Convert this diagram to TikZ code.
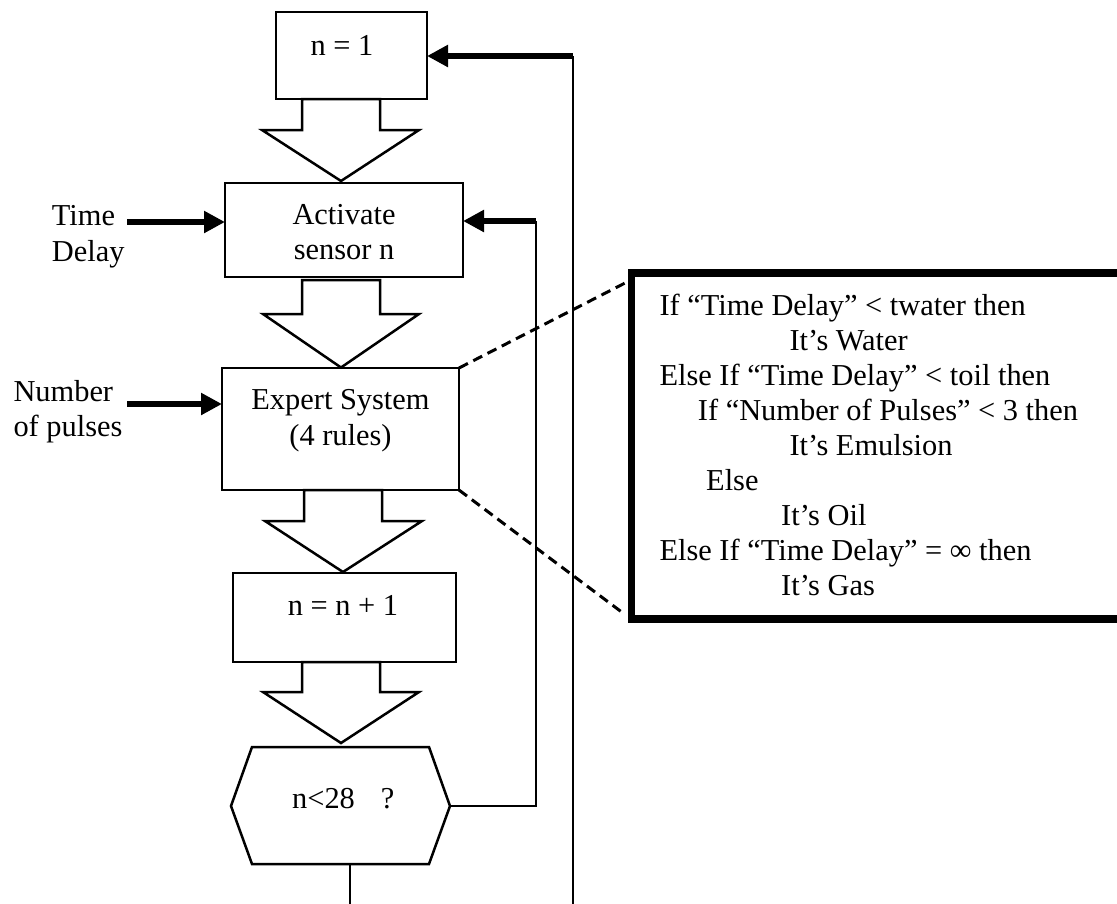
\documentclass[tikz,border=0pt]{standalone}
\usepackage{fontspec}
\setmainfont{Liberation Serif}
\usetikzlibrary{arrows.meta}
\newcommand\blockarr[8]{% stemL stemR top shoulder headL headR tipx tipy
  \draw[blk] (#1,#3) -- (#1,#4) -- (#5,#4) -- (#7,#8) -- (#6,#4) -- (#2,#4) -- (#2,#3) -- cycle;}
\begin{document}
\begin{tikzpicture}[x=1pt,y=-1pt, font=\fontsize{30.4}{35}\selectfont,
  box/.style={draw, line width=2.5pt, inner sep=0pt, outer sep=0pt},
  blk/.style={draw, line width=2.5pt, line join=miter, fill=white},
  plain/.style={line width=2.2pt},
  thickarr/.style={line width=5.5pt, -{Triangle[length=21pt,width=21pt]}},
  dashl/.style={line width=3pt, dash pattern=on 10pt off 6pt},
  txt/.style={anchor=base, inner sep=0pt},
  ltxt/.style={anchor=base west, inner sep=0pt}]
\useasboundingbox (0,0) rectangle (1117,903);

% boxes
\node[box, minimum width=151pt, minimum height=87pt] (b1) at (351.5,55.5) {};
\node[box, minimum width=238pt, minimum height=94pt] (b2) at (344,230) {};
\node[box, minimum width=237pt, minimum height=122pt] (b3) at (340.5,429) {};
\node[box, minimum width=223pt, minimum height=89pt] (b4) at (344.5,617.5) {};
\draw[blk] (252,747) -- (429,747) -- (450,806) -- (429,864) -- (252,864) -- (231,806) -- cycle;
\coordinate (hexE) at (450,806);
\coordinate (hexS) at (350,864);

% texts in boxes
\node[txt] (t1) at (342,55) {n = 1};
\node[txt] (t2a) at (344,224.3) {Activate};
\node[txt] (t2b) at (344,259.3) {sensor n};
\node[txt] (t3a) at (340.5,409.3) {Expert System};
\node[txt] (t3b) at (340.5,445) {(4 rules)};
\node[txt] (t4) at (343,615) {n = n + 1};
\node[ltxt] (t5) at (292,808) {n<28\hspace{26pt}?};

% block arrows
\blockarr{302}{380}{99}{130}{262}{419}{341}{181}
\blockarr{302}{380}{280}{314}{263}{419}{341}{367.5}
\blockarr{304}{382}{490}{521}{265}{422}{343}{572}
\blockarr{302}{380}{662}{692}{263}{419}{341}{743}

% inputs
\node[ltxt] (l1) at (51.7,225.7) {Time};
\node[ltxt] (l2) at (51.7,261) {Delay};
\node[ltxt] (l3) at (13.3,401.7) {Number};
\node[ltxt] (l4) at (13.3,436.7) {of pulses};
\coordinate (tdin) at (127,222);
\coordinate (npin) at (127,404);
\draw[thickarr] (tdin) -- (tdin -| b2.west);
\draw[thickarr] (npin) -- (npin -| b3.west);

% loop back to Activate sensor
\coordinate (c1) at (536,806);
\coordinate (c2) at (536,221);
\draw[plain] (hexE) -- (c1) -- (c2);
\draw[thickarr] (c2) -- (c2 -| b2.east);

% loop back to n = 1
\coordinate (d1) at (573,905);
\coordinate (d2) at (573,56);
\draw[plain] (d1) -- (d2);
\draw[thickarr] (d2) -- (d2 -| b1.east);

% bottom stub
\coordinate (e1) at (350,905);
\draw[plain] (hexS) -- (e1);

% rules box
\node[draw, line width=7.5pt, inner sep=0pt, outer sep=0pt, minimum width=510pt, minimum height=346pt, anchor=north west] (rb) at (631.3,273) {};
\coordinate (rbT) at (627,282);
\coordinate (rbB) at (623,613);
\draw[dashl] (b3.north east) -- (rbT);
\draw[dashl] (b3.south east) -- (rbB);

\node[ltxt] (r1) at (659.3,315) {If “Time Delay” < twater then};
\node[ltxt] (r2) at (789.3,350) {It’s Water};
\node[ltxt] (r3) at (659.3,385) {Else If “Time Delay” < toil then};
\node[ltxt] (r4) at (697.7,420) {If “Number of Pulses” < 3 then};
\node[ltxt] (r5) at (789.3,455) {It’s Emulsion};
\node[ltxt] (r6) at (706,490) {Else};
\node[ltxt] (r7) at (781,525) {It’s Oil};
\node[ltxt] (r8) at (659.3,560) {Else If “Time Delay” = ∞ then};
\node[ltxt] (r9) at (781,595) {It’s Gas};
\end{tikzpicture}
\end{document}
